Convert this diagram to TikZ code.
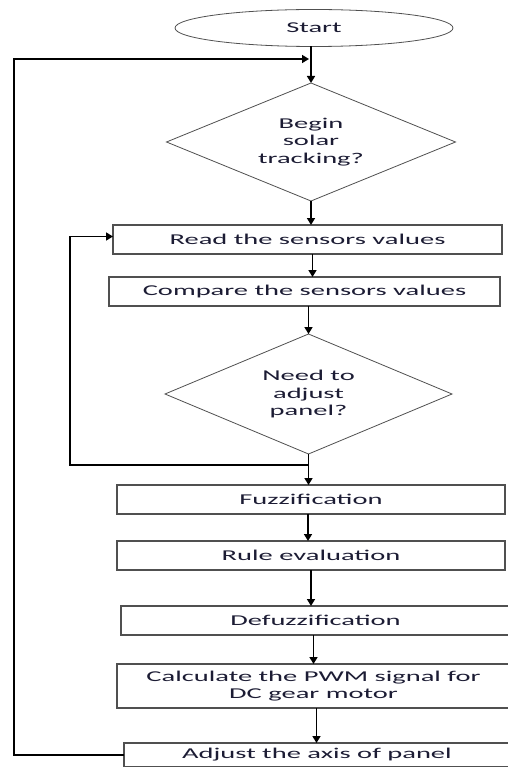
\documentclass[tikz,border=0pt]{standalone}
\usepackage{fontspec}
\setmainfont{Carlito}[FakeStretch=1.9]
\usetikzlibrary{shapes.geometric,arrows.meta}
\definecolor{inkblue}{RGB}{28,28,52}
\definecolor{edgegray}{RGB}{80,80,80}

\begin{document}
\begin{tikzpicture}[
    x = 1pt, y = -1pt,
    font = \fontsize{15}{17.5}\selectfont,
    text = inkblue,
    outer sep = 0mm, inner sep = 0mm,
    box/.style = {
      rectangle, draw = edgegray, line width = 1.6pt, fill = white,
      minimum height = 29pt, align = center,
    },
    decision/.style = {
      diamond, draw = edgegray, line width = .8pt, aspect = 2.4,
      align = center,
    },
    wire/.style = {line width = 1.6pt, draw = black},
    arr/.style = {wire, -{Triangle[length = 7pt, width = 8pt]}},
  ]

  \fill[white] (0,0) rectangle (507,767);
  \useasboundingbox (0,0) rectangle (507,767);

  \node[ellipse, draw = edgegray, line width = .8pt,
    minimum width = 278pt, minimum height = 37pt] (start) at (314,28) {Start};
  \node[decision, minimum width = 289pt, minimum height = 118pt]
    (begin) at (311,142) {Begin\\solar\\tracking?};
  \node[box, minimum width = 389pt] (read) at (307.5,239.5) {Read the sensors values};
  \node[box, minimum width = 391pt] (compare) at (304.5,291.5) {Compare the sensors values};
  \node[decision, minimum width = 287pt, minimum height = 120pt]
    (adjust?) at (308.5,394) {Need to\\adjust\\panel?};
  \node[box, minimum width = 388pt] (fuzz) at (311,499.5) {Fuzzification};
  \node[box, minimum width = 388pt] (rule) at (311,555.5) {Rule evaluation};
  \node[box, minimum width = 389pt] (defuzz) at (315.5,620.5) {Defuzzification};
  \node[box, minimum width = 393pt, minimum height = 44pt]
    (pwm) at (313.5,686) {Calculate the PWM signal for\\DC gear motor};
  \node[box, minimum width = 386pt, minimum height = 24pt]
    (axis) at (317,755) {Adjust the axis of panel};

  % joints and corners of the two loops
  \coordinate (j1) at (311,59);
  \coordinate (l1) at (14,755);
  \path (adjust?.south) ++(0,11) coordinate (j2);
  \coordinate (l2) at (70,465);

  \draw[arr] (start.south -| begin.north) to (begin.north);
  \draw[arr] (begin.south) to (begin.south |- read.north);
  \draw[arr] ([xshift = 5pt]read.south) to ([xshift = 5pt]read.south |- compare.north);
  \draw[arr] ([xshift = 4pt]compare.south) to ([xshift = 4pt]compare.south |- adjust?.north);
  \draw[wire] (adjust?.south) to (j2);
  \draw[arr] (j2) to (j2 |- fuzz.north);
  \draw[arr] ([xshift = -3pt]fuzz.south) to ([xshift = -3pt]fuzz.south |- rule.north);
  \draw[arr] (rule.south) to (rule.south |- defuzz.north);
  \draw[arr] ([xshift = -2pt]defuzz.south) to ([xshift = -2pt]defuzz.south |- pwm.north);
  \draw[arr] ([xshift = 3pt]pwm.south) to ([xshift = 3pt]pwm.south |- axis.north);

  % no: back to reading the sensors
  \draw[arr] (j2) to (l2) |- ([yshift = 3pt]read.west);
  % after adjusting: back to the start
  \draw[arr] (axis.west) to (l1) |- ([xshift = -2pt]j1);
\end{tikzpicture}
\end{document}
